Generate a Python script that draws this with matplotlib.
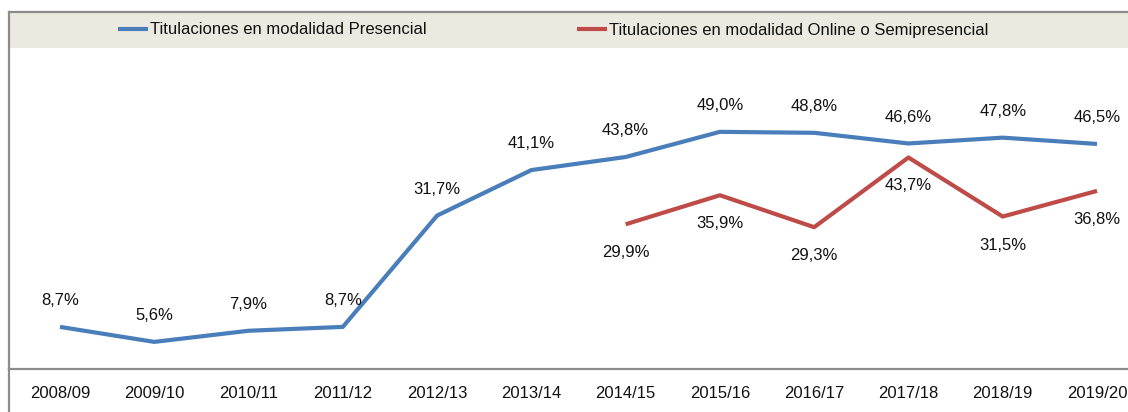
import matplotlib
matplotlib.use("Agg")
import matplotlib.pyplot as plt
from matplotlib.lines import Line2D
from matplotlib.patches import Rectangle

years = ["2008/09", "2009/10", "2010/11", "2011/12", "2012/13", "2013/14",
         "2014/15", "2015/16", "2016/17", "2017/18", "2018/19", "2019/20"]
presencial = [8.7, 5.6, 7.9, 8.7, 31.7, 41.1, 43.8, 49.0, 48.8, 46.6, 47.8, 46.5]
online_years = years[6:]
online = [29.9, 35.9, 29.3, 43.7, 31.5, 36.8]

label_pres = "Titulaciones en modalidad Presencial"
label_online = "Titulaciones en modalidad Online o Semipresencial"

BLUE = "#4A7EBB"
RED = "#BE4B48"
GRAY = "#8C8C8C"
BAND = "#ECEAE0"

plt.rcParams['font.family'] = ['Liberation Sans', 'DejaVu Sans']
FS = 12

W, H = 1128, 412
fig = plt.figure(figsize=(W / 100, H / 100), dpi=100)
left_px, top_px, bottom_px = 9, 12, 369
ax = fig.add_axes([left_px / W, (H - bottom_px) / H, 1.02, (bottom_px - top_px) / H])

x_all = list(range(len(years)))
x_on = [years.index(y) for y in online_years]

ax.plot(x_all, presencial, color=BLUE, lw=3.0, solid_capstyle='butt', label=label_pres, zorder=3)
ax.plot(x_on, online, color=RED, lw=3.0, solid_capstyle='butt', label=label_online, zorder=3)

def fmt(v):
    return f"{v:.1f}".replace(".", ",") + "%"

for xi, v in zip(x_all, presencial):
    ax.annotate(fmt(v), (xi, v), xytext=(0, 19), textcoords='offset points',
                ha='center', va='center', fontsize=FS, color='#111111')
for xi, v in zip(x_on, online):
    ax.annotate(fmt(v), (xi, v), xytext=(0, -20.5), textcoords='offset points',
                ha='center', va='center', fontsize=FS, color='#111111')

px_per = (1097 - 60) / 11
ax.set_xlim(-(60 - left_px) / px_per, 11 + (W * 1.02 + left_px - 1097) / px_per)
ax.set_ylim(0, (bottom_px - top_px) / 4.84)

ax.set_xticks(x_all)
ax.set_xticklabels(years, fontsize=FS, color='#111111')
ax.tick_params(axis='x', length=0, pad=12)
ax.set_yticks([])

for s in ['left', 'top', 'bottom']:
    ax.spines[s].set_color(GRAY)
    ax.spines[s].set_linewidth(1.6)
ax.spines['right'].set_visible(False)

band_frac = (48 - top_px) / (bottom_px - top_px)
ax.add_patch(Rectangle((0, 1 - band_frac), 1, band_frac, transform=ax.transAxes,
                       facecolor=BAND, edgecolor='none', zorder=1))

fig.add_artist(Line2D([left_px / W, left_px / W], [0, (H - bottom_px) / H],
                      color=GRAY, lw=1.6))

leg = ax.legend(loc='center left', bbox_to_anchor=(118 / W, (H - 30) / H),
                bbox_transform=fig.transFigure, ncol=2, frameon=False,
                fontsize=FS, handlelength=1.8, handletextpad=0.12,
                columnspacing=9.0, borderpad=0, borderaxespad=0)
for t in leg.get_texts():
    t.set_color('#111111')

fig.savefig("out.png", dpi=100, facecolor='white')
